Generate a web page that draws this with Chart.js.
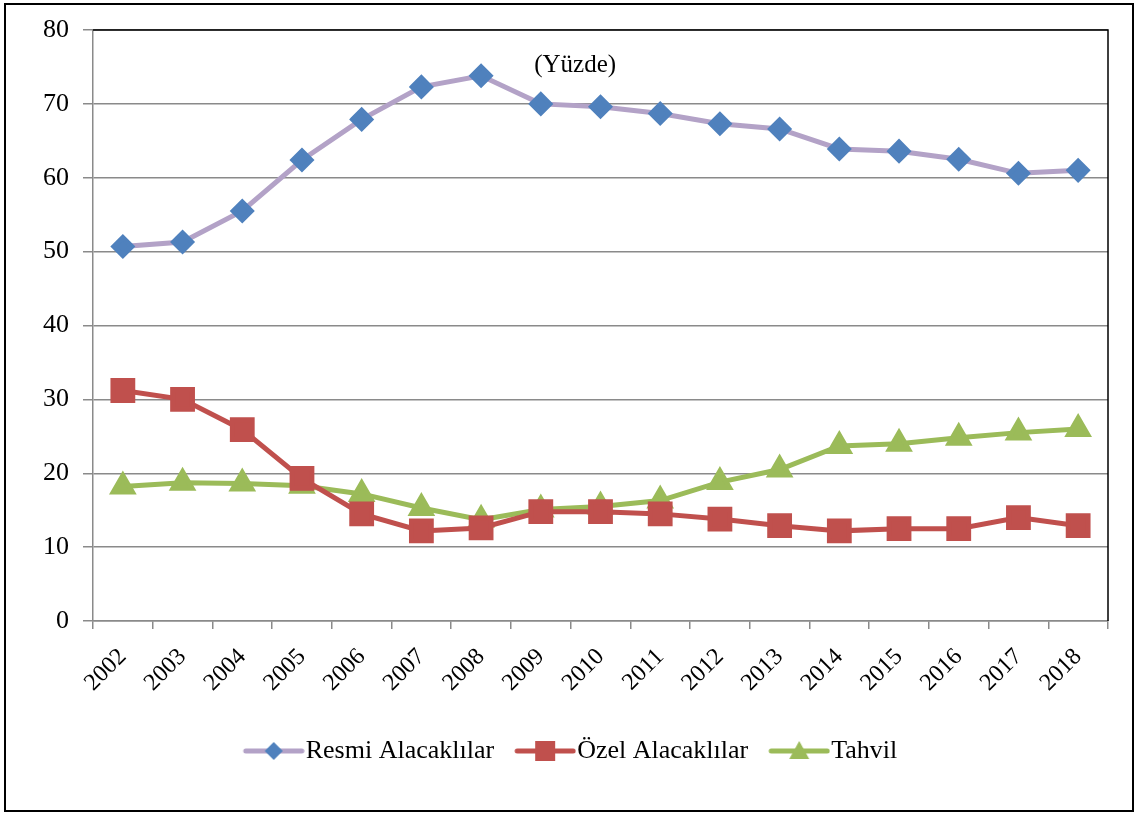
<!DOCTYPE html>
<html>
<head>
<meta charset="utf-8">
<script src="https://cdn.jsdelivr.net/npm/chart.js@4.4.1/dist/chart.umd.min.js"></script>
<style>
  html, body { margin: 0; padding: 0; background: #fff; }
  #wrap { position: relative; width: 1140px; height: 816px; }
</style>
</head>
<body>
<div id="wrap"><canvas id="chart" width="1140" height="816"></canvas></div>
<script>
// ─── Data ───────────────────────────────────────────────────
const years = ['2002', '2003', '2004', '2005', '2006', '2007', '2008', '2009', '2010',
    '2011', '2012', '2013', '2014', '2015', '2016', '2017', '2018'];
const resmi = [50.7, 51.3, 55.5, 62.4, 67.9, 72.3, 73.8, 70.0, 69.6, 68.7, 67.3, 66.6, 63.9, 63.6, 62.5, 60.6, 61.0];
const ozel = [31.2, 30.0, 25.9, 19.3, 14.5, 12.2, 12.6, 14.8, 14.8, 14.5, 13.8, 12.9, 12.2, 12.5, 12.5, 14.0, 12.9];
const tahvil = [18.2, 18.7, 18.6, 18.3, 17.2, 15.3, 13.7, 15.1, 15.5, 16.3, 18.8, 20.5, 23.7, 24.0, 24.8, 25.5, 26.0];
const seriesNames = ['Resmi Alacaklılar', 'Özel Alacaklılar', 'Tahvil'];
const yTicks = [0, 10, 20, 30, 40, 50, 60, 70, 80];

const FONT = "'Liberation Serif', 'Times New Roman', serif";
const GRID = '#8a8a8a';

// ─── Legend icons: line with the marker in the middle ───────
// image is centred on the legend box, so it is padded on the left
function legendIcon(lineColor, markColor, shape) {
    const c = document.createElement('canvas');
    c.width = 74; c.height = 24;
    const g = c.getContext('2d');
    g.strokeStyle = lineColor; g.lineWidth = 5; g.lineCap = 'round';
    g.beginPath(); g.moveTo(15, 12); g.lineTo(71, 12); g.stroke();
    g.fillStyle = markColor;
    g.beginPath();
    const cx = 43;
    if (shape === 'diamond') {
        g.moveTo(cx, 3); g.lineTo(cx + 9, 12); g.lineTo(cx, 21); g.lineTo(cx - 9, 12);
    } else if (shape === 'square') {
        g.rect(cx - 10, 2, 20, 20);
    } else {
        g.moveTo(cx, 2); g.lineTo(cx + 10, 20); g.lineTo(cx - 10, 20);
    }
    g.closePath(); g.fill();
    return c;
}

const icons = [
    legendIcon('#b3a2c7', '#4f81bd', 'diamond'),
    legendIcon('#c0504d', '#c0504d', 'square'),
    legendIcon('#9bbb59', '#9bbb59', 'triangle')
];

// ─── Frame, plot border, unit note ──────────────────────────
const frame = {
    id: 'frame',
    afterDraw(chart) {
        const { ctx, chartArea: a } = chart;
        ctx.save();
        ctx.strokeStyle = '#000'; ctx.lineWidth = 1.5;
        ctx.beginPath();
        ctx.moveTo(a.left, a.top); ctx.lineTo(a.right, a.top); ctx.lineTo(a.right, a.bottom);
        ctx.stroke();
        ctx.lineWidth = 2;
        ctx.strokeRect(5, 4, 1128, 807);
        ctx.fillStyle = '#000';
        ctx.font = '25px ' + FONT;
        ctx.textAlign = 'center'; ctx.textBaseline = 'middle';
        ctx.fillText('(Yüzde)', a.left + (a.right - a.left) * 0.475, a.top + 35);
        ctx.restore();
    }
};

new Chart(document.getElementById('chart'), {
    type: 'line',
    data: {
        labels: years,
        datasets: [
            { label: seriesNames[0], data: resmi, borderColor: '#b3a2c7', backgroundColor: '#4f81bd',
              pointBackgroundColor: '#4f81bd', pointBorderColor: '#4f81bd', pointStyle: 'rectRot', pointRadius: 9, borderWidth: 5 },
            { label: seriesNames[1], data: ozel, borderColor: '#c0504d', backgroundColor: '#c0504d',
              pointBackgroundColor: '#c0504d', pointBorderColor: '#c0504d', pointStyle: 'rect', pointRadius: 14, borderWidth: 5 },
            { label: seriesNames[2], data: tahvil, borderColor: '#9bbb59', backgroundColor: '#9bbb59',
              pointBackgroundColor: '#9bbb59', pointBorderColor: '#9bbb59', pointStyle: 'triangle', pointRadius: 11, borderWidth: 5 }
        ]
    },
    options: {
        responsive: false, animation: false,
        layout: { padding: { left: 0, right: 0, top: 30, bottom: 42 } },
        plugins: {
            tooltip: { enabled: false },
            legend: {
                position: 'bottom',
                labels: {
                    usePointStyle: true, pointStyleWidth: 50, padding: 20,
                    color: '#000', font: { family: FONT, size: 26 },
                    generateLabels: chart => chart.data.datasets.map((ds, i) => ({
                        text: ds.label, pointStyle: icons[i], fillStyle: ds.borderColor,
                        strokeStyle: ds.borderColor, lineWidth: 0, datasetIndex: i, fontColor: '#000'
                    }))
                }
            }
        },
        scales: {
            x: {
                offset: true,
                grid: { offset: true, drawOnChartArea: false, drawTicks: true, tickLength: 8, color: GRID, lineWidth: 1.5 },
                border: { color: GRID, width: 1.5 },
                ticks: { color: '#000', font: { family: FONT, size: 24 }, minRotation: 45, maxRotation: 45, padding: 14 },
                afterFit: s => { s.height = 97; }
            },
            y: {
                min: 0, max: 80,
                afterBuildTicks: s => { s.ticks = yTicks.map(v => ({ value: v })); },
                grid: { color: GRID, lineWidth: 1.5, tickLength: 10 },
                border: { color: GRID, width: 1.5 },
                ticks: { color: '#000', font: { family: FONT, size: 26 }, padding: 14 },
                afterFit: s => { s.width = 93; }
            },
            // empty right axis, only reserves the margin right of the plot
            yr: {
                position: 'right', min: 0, max: 80,
                grid: { display: false, drawTicks: false },
                border: { display: false },
                ticks: { display: false },
                afterFit: s => { s.width = 32; }
            }
        }
    },
    plugins: [frame]
});
</script>
</body>
</html>
